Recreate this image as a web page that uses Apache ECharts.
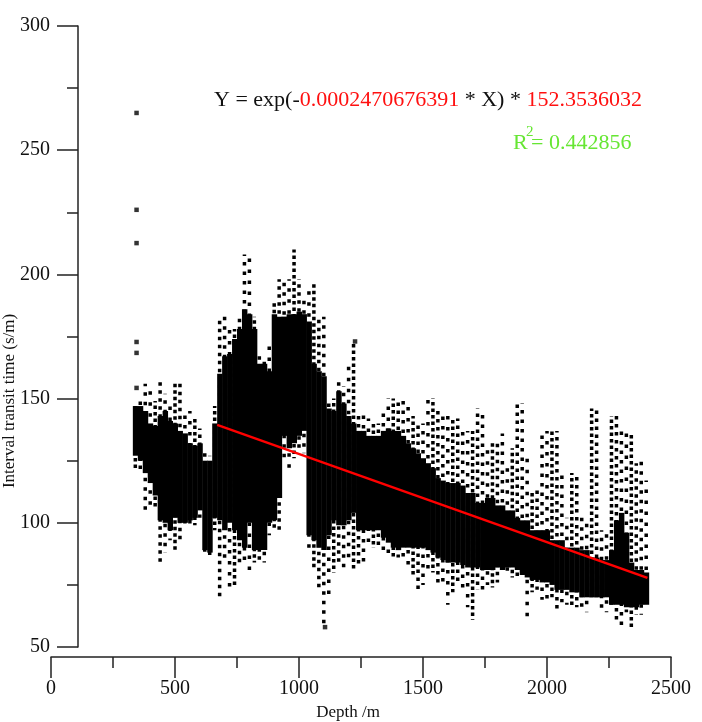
<!DOCTYPE html>
<html>
<head>
<meta charset="utf-8">
<script src="https://cdn.jsdelivr.net/npm/echarts@6/dist/echarts.min.js"></script>
<style>
html, body { margin: 0; padding: 0; background: #fff; }
#main { width: 702px; height: 722px; }
</style>
</head>
<body>
<div id="main"></div>
<script>
let chart = echarts.init(document.getElementById('main'));

// depth sample (m), every 20 m
let depths = [340, 360, 380, 400, 420, 440, 460, 480, 500, 520, 540, 560, 580, 600, 620, 640, 660, 680, 700, 720,
	740, 760, 780, 800, 820, 840, 860, 880, 900, 920, 940, 960, 980, 1000, 1020, 1040, 1060, 1080, 1100, 1120,
	1140, 1160, 1180, 1200, 1220, 1240, 1260, 1280, 1300, 1320, 1340, 1360, 1380, 1400, 1420, 1440, 1460, 1480, 1500, 1520,
	1540, 1560, 1580, 1600, 1620, 1640, 1660, 1680, 1700, 1720, 1740, 1760, 1780, 1800, 1820, 1840, 1860, 1880, 1900, 1920,
	1940, 1960, 1980, 2000, 2020, 2040, 2060, 2080, 2100, 2120, 2140, 2160, 2180, 2200, 2220, 2240, 2260, 2280, 2300, 2320,
	2340, 2360, 2380, 2400];
// dense part of the cloud (s/m)
let coreHigh = [147, 147, 145, 140, 139, 143, 145, 141, 140, 137, 136, 132, 131, 132, 125, 125, 140, 160, 167, 168,
	174, 178, 186, 184, 178, 164, 164, 161, 184, 183, 183, 184, 184, 185, 184, 181, 164, 161, 159, 146,
	145, 153, 148, 143, 140, 137, 137, 135, 135, 135, 137, 138, 137, 137, 135, 132, 130, 128, 126, 124,
	122, 118, 117, 116, 116, 116, 115, 112, 112, 108, 108, 110, 110, 107, 107, 105, 105, 102, 101, 101,
	97, 97, 97, 97, 93, 93, 93, 90, 90, 90, 89, 89, 86, 86, 85, 85, 89, 101, 104, 96,
	84, 81, 81, 80];
let coreLow = [127, 125, 120, 116, 111, 101, 100, 97, 102, 100, 100, 101, 102, 105, 89, 88, 102, 101, 97, 100,
	97, 93, 90, 100, 89, 89, 89, 100, 101, 110, 135, 130, 132, 135, 137, 95, 93, 90, 89, 95,
	101, 99, 99, 101, 104, 97, 97, 97, 97, 97, 94, 92, 90, 89, 90, 90, 90, 90, 90, 89,
	88, 86, 85, 84, 84, 84, 83, 82, 82, 82, 81, 81, 81, 82, 81, 82, 82, 81, 79, 78,
	77, 77, 76, 76, 75, 73, 73, 73, 72, 72, 70, 70, 70, 70, 70, 70, 67, 67, 67, 66,
	66, 66, 67, 67];
// scattered points around the dense part
let spreadHigh = [147, 150, 156, 155, 149, 157, 152, 148, 157, 156, 145, 145, 142, 138, 129, 127, 147, 183, 183, 180,
	178, 183, 208, 208, 183, 167, 167, 171, 189, 198, 198, 198, 210, 198, 190, 196, 196, 183, 183, 150,
	150, 157, 155, 164, 173, 143, 145, 142, 140, 140, 145, 150, 150, 150, 149, 149, 143, 140, 140, 151,
	150, 145, 145, 143, 142, 142, 138, 137, 137, 146, 144, 132, 132, 133, 136, 124, 130, 148, 148, 127,
	113, 113, 137, 137, 137, 137, 120, 102, 120, 120, 102, 102, 146, 146, 97, 97, 143, 143, 139, 136,
	136, 124, 126, 117];
let spreadLow = [122, 121, 105, 105, 106, 84, 88, 93, 89, 92, 98, 99, 99, 102, 88, 87, 97, 69, 84, 74,
	74, 84, 84, 80, 84, 84, 84, 95, 97, 97, 126, 120, 126, 130, 128, 90, 82, 74, 58, 70,
	80, 84, 81, 84, 81, 82, 84, 90, 90, 90, 88, 86, 86, 86, 84, 83, 78, 73, 75, 81,
	80, 76, 75, 67, 72, 75, 74, 66, 61, 73, 72, 75, 74, 76, 79, 78, 78, 78, 78, 62,
	72, 73, 69, 69, 70, 65, 68, 67, 66, 66, 64, 64, 70, 70, 64, 64, 67, 60, 58, 64,
	58, 63, 63, 66];
// isolated points
let outlierDepth = [345, 345, 345, 345, 345, 345, 1226, 1105];
let outlierTime = [265, 226, 212.6, 172.8, 168.4, 154.3, 173, 58];
// fitted curve
let fitDepth = [670, 2405];
let fitTime = [139.4, 77.8];

let xTicks = [0, 500, 1000, 1500, 2000, 2500];
let yTicks = [50, 100, 150, 200, 250, 300];

let serif = '"Liberation Serif", "Times New Roman", serif';

function renderCore(params, api) {
	let p1 = api.coord([api.value(0) - 10, api.value(2)]);
	let p2 = api.coord([api.value(0) + 10, api.value(1)]);
	return {
		type: 'rect',
		shape: { x: p1[0], y: p1[1], width: p2[0] - p1[0] + 0.5, height: p2[1] - p1[1] },
		style: { fill: '#000' }
	};
}

// sparse squares drawn as a dotted column, gaps varied a bit per column
function renderSpread(params, api) {
	let top = api.coord([api.value(0), api.value(2)]);
	let bot = api.coord([api.value(0), api.value(1)]);
	let i = params.dataIndex;
	return {
		type: 'line',
		shape: { x1: top[0], y1: top[1], x2: bot[0], y2: bot[1] },
		style: {
			stroke: '#000',
			lineWidth: 3.5,
			lineDash: [3.5, 3 + (i % 4) * 1.5],
			lineDashOffset: (i * 5) % 9
		}
	};
}

option = {
	backgroundColor: '#fff',
	animation: false,
	grid: { left: 51, right: 31, top: 26, bottom: 75 },
	xAxis: {
		type: 'value',
		min: 0,
		max: 2500,
		interval: 500,
		offset: 10,
		axisLine: { lineStyle: { color: '#222', width: 1.5 } },
		axisTick: { length: 21, lineStyle: { color: '#222', width: 1.5 } },
		minorTick: { show: true, splitNumber: 2, length: 11, lineStyle: { color: '#222', width: 1.5 } },
		splitLine: { show: false },
		axisLabel: {
			margin: 22, color: '#111', fontSize: 20, fontFamily: serif,
			formatter: function (v) { return xTicks.indexOf(v) >= 0 ? String(v) : ''; }
		}
	},
	yAxis: {
		type: 'value',
		min: 50,
		max: 300,
		interval: 50,
		offset: -27,
		axisLine: { show: true, lineStyle: { color: '#222', width: 1.5 } },
		axisTick: { show: true, length: 21, lineStyle: { color: '#222', width: 1.5 } },
		minorTick: { show: true, splitNumber: 2, length: 11, lineStyle: { color: '#222', width: 1.5 } },
		splitLine: { show: false },
		axisLabel: {
			margin: 28, color: '#111', fontSize: 20, fontFamily: serif,
			formatter: function (v) { return yTicks.indexOf(v) >= 0 ? String(v) : ''; }
		}
	},
	graphic: [
		{
			type: 'text', x: 214, y: 89,
			style: {
				text: '{k|Y = exp(-}{r|0.0002470676391}{k| * X) * }{r|152.3536032}',
				font: '22px ' + serif,
				rich: {
					k: { fill: '#111', fontSize: 22, fontFamily: serif },
					r: { fill: '#ff1010', fontSize: 22, fontFamily: serif }
				}
			}
		},
		{ type: 'text', x: 513, y: 132, style: { text: 'R', fill: '#66e633', font: '22px ' + serif } },
		{ type: 'text', x: 526, y: 125, style: { text: '2', fill: '#66e633', font: '15px ' + serif } },
		{ type: 'text', x: 531, y: 132, style: { text: '= 0.442856', fill: '#66e633', font: '22px ' + serif } },
		{ type: 'text', x: 348, y: 713, style: { text: 'Depth /m', fill: '#111', font: '17px ' + serif, align: 'center', verticalAlign: 'middle' } },
		{
			type: 'text', x: 10, y: 401, rotation: Math.PI / 2,
			style: { text: 'Interval transit time (s/m)', fill: '#111', font: '17px ' + serif, align: 'center', verticalAlign: 'middle' }
		}
	],
	series: [
		{
			type: 'custom',
			renderItem: renderSpread,
			data: depths.map(function (d, i) { return [d, spreadLow[i], spreadHigh[i]]; }),
			z: 2
		},
		{
			type: 'custom',
			renderItem: renderCore,
			data: depths.map(function (d, i) { return [d, coreLow[i], coreHigh[i]]; }),
			z: 3
		},
		{
			type: 'scatter',
			symbol: 'rect',
			symbolSize: 4.5,
			itemStyle: { color: '#000' },
			data: outlierDepth.map(function (d, i) { return [d, outlierTime[i]]; }),
			z: 4
		},
		{
			type: 'line',
			showSymbol: false,
			lineStyle: { color: '#ff0000', width: 2.5 },
			data: fitDepth.map(function (d, i) { return [d, fitTime[i]]; }),
			z: 5
		}
	]
};

chart.setOption(option, true);
</script>
</body>
</html>
